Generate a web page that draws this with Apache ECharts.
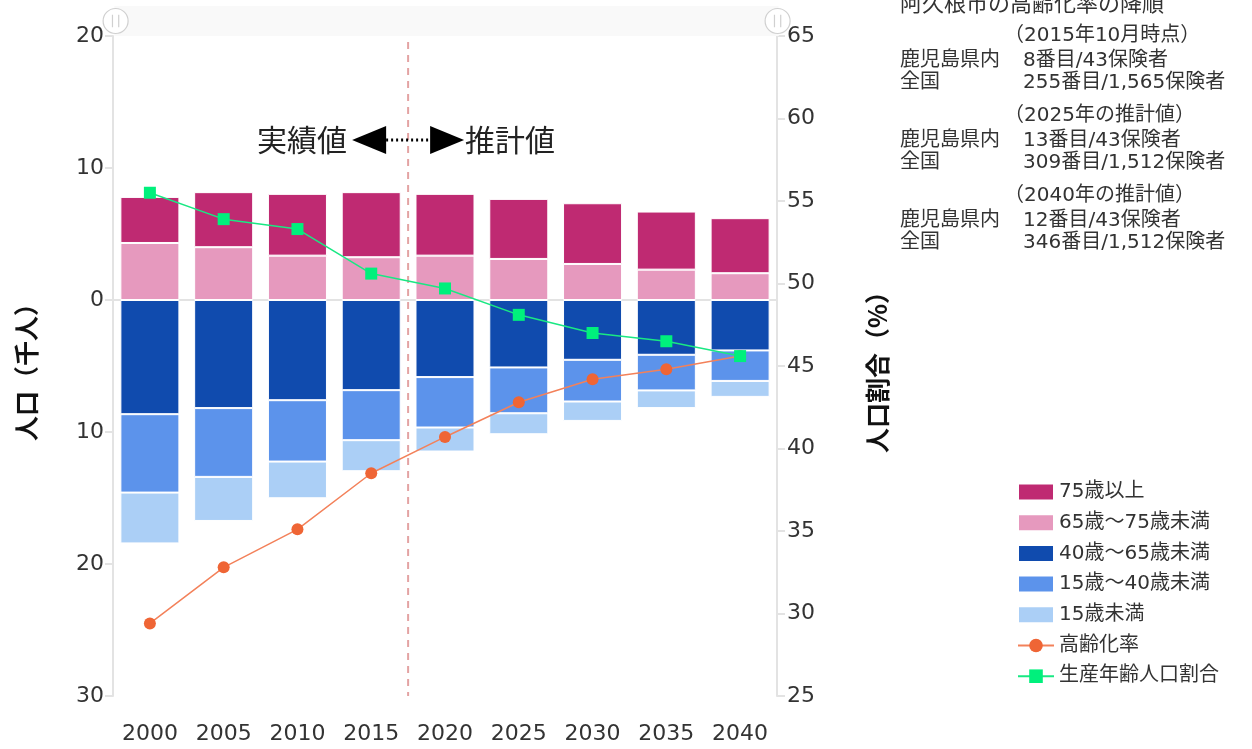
<!DOCTYPE html>
<html><head><meta charset="utf-8">
<script src="https://cdn.jsdelivr.net/npm/echarts@6/dist/echarts.min.js"></script>
<style>html,body{margin:0;padding:0;background:#fff}#c{width:1252px;height:749px}</style>
</head><body><div id="c"></div>
<script>
const years = ['2000','2005','2010','2015','2020','2025','2030','2035','2040'];
const age75plus   = [3.49, 4.17, 4.68, 4.93, 4.68, 4.55, 4.60, 4.40, 4.17];
const age65to75   = [4.32, 4.00, 3.36, 3.24, 3.36, 3.11, 2.73, 2.30, 2.03];
const age40to65   = [8.65, 8.19, 7.59, 6.83, 5.84, 5.11, 4.53, 4.15, 3.82];
const age15to40   = [5.94, 5.21, 4.65, 3.79, 3.82, 3.47, 3.16, 2.70, 2.31];
const under15     = [3.85, 3.34, 2.78, 2.35, 1.82, 1.59, 1.47, 1.34, 1.21];
const agingRate   = [29.4, 32.8, 35.1, 38.5, 40.7, 42.8, 44.2, 44.8, 45.6];
const workingRate = [55.5, 53.9, 53.3, 50.6, 49.7, 48.1, 47.0, 46.5, 45.6];
const leftTicks = {min: -30, max: 20, interval: 10};
const rightTicks = {min: 25, max: 65, interval: 5};
const names = ['75歳以上','65歳～75歳未満','40歳～65歳未満','15歳～40歳未満','15歳未満','高齢化率','生産年齢人口割合'];
const infoTitle = '阿久根市の高齢化率の降順';
const infoBlocks = [
  {head:'（2015年10月時点）', pref:'8番目/43保険者', nat:'255番目/1,565保険者'},
  {head:'（2025年の推計値）', pref:'13番目/43保険者', nat:'309番目/1,512保険者'},
  {head:'（2040年の推計値）', pref:'12番目/43保険者', nat:'346番目/1,512保険者'}
];

const FONT = "DejaVu Sans, Noto Sans CJK JP, sans-serif";
const CJK = "Noto Sans CJK JP, sans-serif";
const neg = a => a.map(v => -v);
const chart = echarts.init(document.getElementById('c'));
const barBase = {type:'bar', stack:'pop', barCategoryGap:'20%'};
const axisGrey = '#e3e3e3';

chart.setOption({
  animation:false,
  backgroundColor:'#fff',
  grid:{left:113, right:475, top:36, bottom:53},
  dataZoom:[{
    type:'slider', xAxisIndex:0, left:113, right:475, top:6, height:30,
    showDetail:false, showDataShadow:false, brushSelect:false, moveHandleSize:0,
    backgroundColor:'#fbfbfb', borderColor:'transparent', fillerColor:'rgba(248,248,248,0.6)',
    dataBackground:{lineStyle:{opacity:0}, areaStyle:{opacity:0}},
    selectedDataBackground:{lineStyle:{opacity:0}, areaStyle:{opacity:0}},
    handleIcon:'path://M-10,0A10,10,0,1,0,10,0A10,10,0,1,0,-10,0Z M-2.5,-5L-2.5,5 M2.5,-5L2.5,5',
    handleSize:25,
    handleStyle:{color:'#fff', borderColor:'#d0d0d0', borderWidth:1.2},
    emphasis:{handleStyle:{color:'#fff', borderColor:'#bbb'}}
  }],
  legend:{
    orient:'vertical', left:1012, top:477, itemWidth:36, itemHeight:17, itemGap:10.7,
    data:names.map((n, i) => i < 5 ? {name:n, icon:'rect'} : {name:n}),
    textStyle:{fontFamily:FONT, fontSize:20, color:'#333', lineHeight:20}
  },
  xAxis:{
    type:'category', data:years,
    axisLine:{lineStyle:{color:axisGrey, width:2}},
    axisTick:{alignWithLabel:true, length:8, lineStyle:{color:axisGrey, width:2}},
    axisLabel:{fontFamily:'DejaVu Sans', fontSize:22, color:'#333', margin:27}
  },
  yAxis:[{
    type:'value', min:leftTicks.min, max:leftTicks.max, interval:leftTicks.interval,
    name:'人口（千人）', nameLocation:'middle', nameGap:74, nameRotate:90,
    nameTextStyle:{fontFamily:CJK, fontSize:25, fontWeight:'bold', color:'#111'},
    axisLine:{show:true, lineStyle:{color:axisGrey, width:2}},
    axisTick:{show:true, length:8, lineStyle:{color:axisGrey, width:2}},
    splitLine:{show:false},
    axisLabel:{fontFamily:'DejaVu Sans', fontSize:22, color:'#333', margin:9, formatter:v => Math.abs(v)}
  },{
    type:'value', min:rightTicks.min, max:rightTicks.max, interval:rightTicks.interval, position:'right',
    name:'人口割合（%）', nameLocation:'middle', nameGap:88, nameRotate:90,
    nameTextStyle:{fontFamily:CJK, fontSize:25, fontWeight:'bold', color:'#111'},
    axisLine:{show:true, lineStyle:{color:axisGrey, width:2}},
    axisTick:{show:true, length:8, lineStyle:{color:axisGrey, width:2}},
    splitLine:{show:false},
    axisLabel:{fontFamily:'DejaVu Sans', fontSize:22, color:'#333', margin:10}
  }],
  series:[
    Object.assign({}, barBase, {name:names[1], data:age65to75, itemStyle:{color:'#e699be', borderColor:'#fff', borderWidth:1}}),
    Object.assign({}, barBase, {name:names[0], data:age75plus, itemStyle:{color:'#bf2a72', borderColor:'#fff', borderWidth:1}}),
    Object.assign({}, barBase, {name:names[2], data:neg(age40to65), itemStyle:{color:'#104bae', borderColor:'#fff', borderWidth:1}}),
    Object.assign({}, barBase, {name:names[3], data:neg(age15to40), itemStyle:{color:'#5c93eb', borderColor:'#fff', borderWidth:1}}),
    Object.assign({}, barBase, {name:names[4], data:neg(under15), itemStyle:{color:'#abcff6', borderColor:'#fff', borderWidth:1}}),
    {type:'line', name:names[5], yAxisIndex:1, data:agingRate, symbol:'circle', symbolSize:12,
     lineStyle:{color:'#f3815a', width:1.5}, itemStyle:{color:'#ef6535'}},
    {type:'line', name:names[6], yAxisIndex:1, data:workingRate, symbol:'rect', symbolSize:12,
     lineStyle:{color:'#19e883', width:1.5}, itemStyle:{color:'#00f07c'}}
  ]
});

// divider between actual and projected values
const x15 = chart.convertToPixel({xAxisIndex:0}, '2015');
const x20 = chart.convertToPixel({xAxisIndex:0}, '2020');
const xm = (x15 + x20) / 2;
const yTop = chart.convertToPixel({yAxisIndex:0}, leftTicks.max);
const yBot = chart.convertToPixel({yAxisIndex:0}, leftTicks.min);
const ay = 140;
const TXT = "20px DejaVu Sans, Noto Sans CJK JP, sans-serif";
const gfx = [
  {type:'line', z:1, shape:{x1:xm, y1:yTop+6, x2:xm, y2:yBot}, style:{stroke:'#e3a3a3', lineWidth:2, lineDash:[7,6]}},
  {type:'text', z:10, x:xm-61, y:ay, style:{text:'実績値', font:"30px Noto Sans CJK JP", fill:'#222', align:'right', verticalAlign:'middle'}},
  {type:'polygon', z:10, shape:{points:[[xm-56,ay],[xm-22,ay-14],[xm-22,ay+14]]}, style:{fill:'#000'}},
  {type:'line', z:10, shape:{x1:xm-22, y1:ay, x2:xm+22, y2:ay}, style:{stroke:'#000', lineWidth:3, lineDash:[2,3]}},
  {type:'polygon', z:10, shape:{points:[[xm+56,ay],[xm+22,ay-14],[xm+22,ay+14]]}, style:{fill:'#000'}},
  {type:'text', z:10, x:xm+57, y:ay, style:{text:'推計値', font:"30px Noto Sans CJK JP", fill:'#222', align:'left', verticalAlign:'middle'}},
  {type:'text', x:900, y:3, style:{text:infoTitle, font:"22px Noto Sans CJK JP", fill:'#333', verticalAlign:'middle'}}
];
infoBlocks.forEach((b, i) => {
  const y0 = 36 + i * 80;
  gfx.push({type:'text', x:1004, y:y0, style:{text:b.head, font:TXT, fill:'#333', verticalAlign:'middle'}});
  gfx.push({type:'text', x:900, y:y0+25, style:{text:'鹿児島県内', font:TXT, fill:'#333', verticalAlign:'middle'}});
  gfx.push({type:'text', x:1023, y:y0+25, style:{text:b.pref, font:TXT, fill:'#333', verticalAlign:'middle'}});
  gfx.push({type:'text', x:900, y:y0+47, style:{text:'全国', font:TXT, fill:'#333', verticalAlign:'middle'}});
  gfx.push({type:'text', x:1023, y:y0+47, style:{text:b.nat, font:TXT, fill:'#333', verticalAlign:'middle'}});
});
chart.setOption({graphic:gfx});
</script>
</body></html>
